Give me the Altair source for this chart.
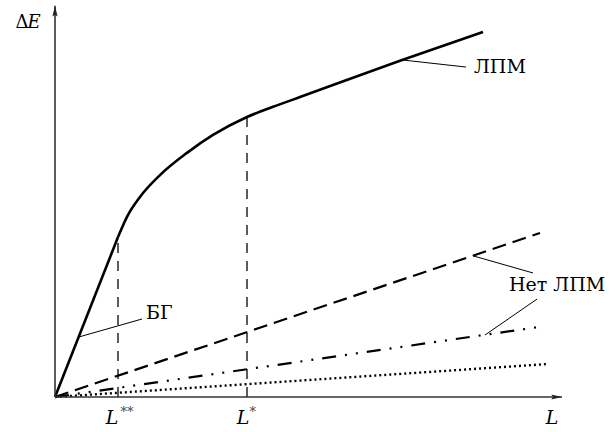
import altair as alt
import pandas as pd

# Canvas/scale setup: whole 615x432 page is the plot, origin of the axes sits inside it
X_DOMAIN = [-1.1, 11.2]
Y_DOMAIN = [-0.8974, 10.1795]
FONT = "DejaVu Serif"

# Characteristic lengths
L_SS = 1.26   # L**
L_S = 3.84    # L*

# Main curve (ЛПМ): straight rise up to L**, then a bending branch
lin_x = [0.0, 1.26]
lin_y = [0.0, 4.10]
curve_x = [1.26, 1.44, 1.70, 2.10, 2.64, 3.16, 3.84, 4.36, 4.90, 6.90, 8.56]
curve_y = [4.10, 4.62, 5.13, 5.69, 6.26, 6.72, 7.18, 7.44, 7.69, 8.62, 9.36]

# Straight "no ЛПМ" lines from origin: end points
dash_end = (9.70, 4.205)
dashdot_end = (9.68, 1.795)
dot_end = (9.86, 0.846)

# Axis extents (arrow tips)
x_axis_end = 10.14
y_axis_end = 10.03

xs = alt.Scale(domain=X_DOMAIN, nice=False, zero=False)
ys = alt.Scale(domain=Y_DOMAIN, nice=False, zero=False)


def X(field="x"):
    return alt.X(f"{field}:Q", scale=xs, axis=None)


def Y(field="y"):
    return alt.Y(f"{field}:Q", scale=ys, axis=None)


# Axes
axes_df = pd.DataFrame({
    "x": [0.0, 0.0], "y": [0.0, 0.0],
    "x2": [x_axis_end, 0.0], "y2": [0.0, y_axis_end],
})
axes = alt.Chart(axes_df).mark_rule(color="#333333", strokeWidth=1.6).encode(
    x=X(), y=Y(), x2="x2:Q", y2="y2:Q"
)

arrow_path = "M0,0 L0.35,1.45 L0,1.2 L-0.35,1.45 Z"
arrows_df = pd.DataFrame({"x": [0.0, x_axis_end], "y": [y_axis_end, 0.0], "ang": [0, 90]})
arrows = alt.Chart(arrows_df).mark_point(
    shape=arrow_path, filled=True, color="#222222", size=220, opacity=1
).encode(x=X(), y=Y(), angle=alt.Angle("ang:Q", scale=None))

# Main curve
lin_df = pd.DataFrame({"x": lin_x, "y": lin_y})
lin = alt.Chart(lin_df).mark_line(color="black", strokeWidth=2.6).encode(x=X(), y=Y())
curve_df = pd.DataFrame({"x": curve_x, "y": curve_y})
curve = alt.Chart(curve_df).mark_line(
    color="black", strokeWidth=2.6, interpolate="monotone"
).encode(x=X(), y=Y(), order="x:Q")


def straight(end, dash, width):
    df = pd.DataFrame({"x": [0.0, end[0]], "y": [0.0, end[1]]})
    return alt.Chart(df).mark_line(
        color="black", strokeWidth=width, strokeDash=dash
    ).encode(x=X(), y=Y())


dashed = straight(dash_end, [14, 7], 2.2)
dashdot = straight(dashdot_end, [14, 9, 2, 9, 2, 9], 2.2)
dotted = straight(dot_end, [2, 3], 2.4)

# Vertical markers at L** and L*
vdf = pd.DataFrame({"x": [L_SS, L_S], "y": [0.0, 0.0], "y2": [4.10, 7.18]})
vlines = alt.Chart(vdf).mark_rule(
    color="#333333", strokeWidth=1.6, strokeDash=[10, 8]
).encode(x=X(), y=Y(), y2="y2:Q")

# Leader lines for labels
leaders_df = pd.DataFrame({
    "x": [6.96, 0.48, 8.36, 8.60],
    "y": [8.64, 1.54, 3.62, 1.59],
    "x2": [8.22, 1.74, 9.56, 9.64],
    "y2": [8.46, 2.00, 3.18, 2.51],
})
leaders = alt.Chart(leaders_df).mark_rule(color="black", strokeWidth=1).encode(
    x=X(), y=Y(), x2="x2:Q", y2="y2:Q"
)

# Curve labels
names = ["ЛПМ", "БГ", "Нет ЛПМ"]
names_x = [8.38, 1.82, 9.08]
names_y = [8.46, 2.15, 2.87]
name_df = pd.DataFrame({"x": names_x, "y": names_y, "t": names})
name_text = alt.Chart(name_df).mark_text(
    font=FONT, fontSize=19, align="left", baseline="middle", color="black"
).encode(x=X(), y=Y(), text="t:N")

# Axis titles and tick labels (italic letters, upright superscripts)
ital_df = pd.DataFrame({
    "x": [1.14, 3.76, 9.94],
    "y": [-0.54, -0.54, -0.54],
    "t": ["L", "L", "L"],
})
ital = alt.Chart(ital_df).mark_text(
    font=FONT, fontSize=19, fontStyle="italic", align="center", baseline="middle", color="black"
).encode(x=X(), y=Y(), text="t:N")

sup_df = pd.DataFrame({"x": [1.31, 3.89], "y": [-0.38, -0.38], "t": ["**", "*"]})
sup = alt.Chart(sup_df).mark_text(
    font=FONT, fontSize=13, align="left", baseline="middle", color="#444444"
).encode(x=X(), y=Y(), text="t:N")

delta = alt.Chart(pd.DataFrame({"x": [-0.53], "y": [9.59], "t": ["Δ"]})).mark_text(
    font=FONT, fontSize=18, align="right", baseline="middle", color="black"
).encode(x=X(), y=Y(), text="t:N")
e_lbl = alt.Chart(pd.DataFrame({"x": [-0.55], "y": [9.59], "t": ["E"]})).mark_text(
    font=FONT, fontSize=18, fontStyle="italic", align="left", baseline="middle", color="black"
).encode(x=X(), y=Y(), text="t:N")

chart = alt.layer(
    vlines, dotted, dashdot, dashed, lin, curve, leaders, axes, arrows,
    name_text, ital, sup, delta, e_lbl
).properties(
    width=615, height=432, padding=0, background="white",
    autosize=alt.AutoSizeParams(type="none")
).configure_view(stroke=None)

chart.save("out.html", embed_options={"renderer": "svg", "actions": False})
